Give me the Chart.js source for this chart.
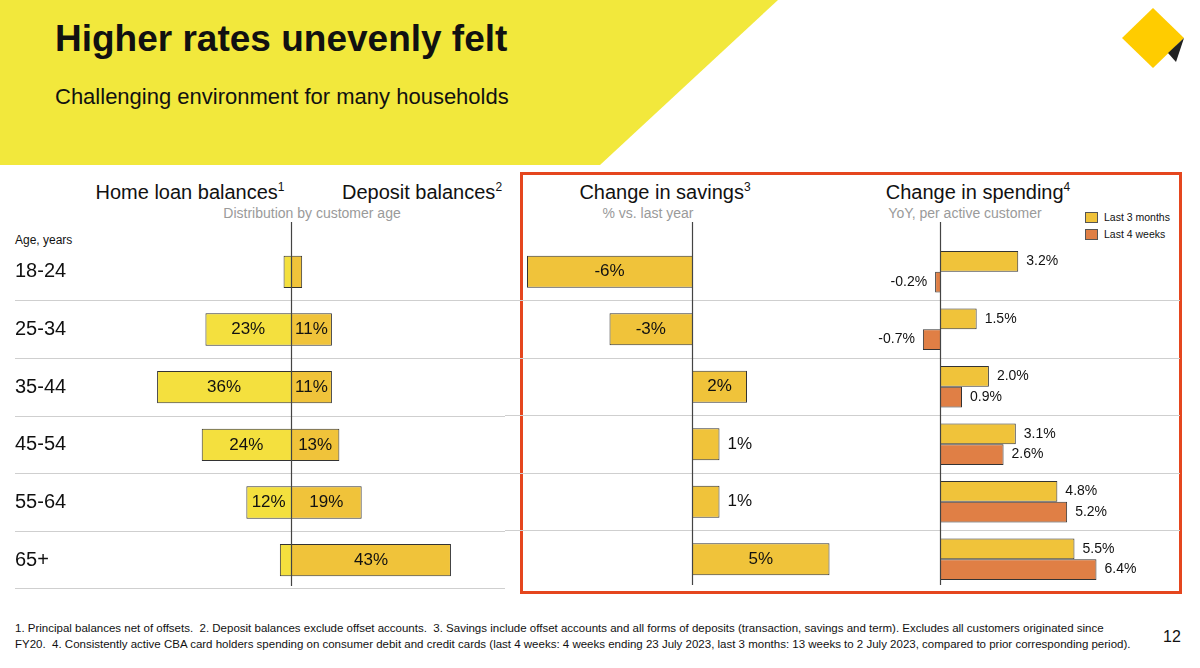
<!DOCTYPE html>
<html>
<head>
<meta charset="utf-8">
<script src="https://cdn.jsdelivr.net/npm/chart.js@4"></script>
<style>
  body { margin:0; width:1200px; height:668px; position:relative; background:#fff; overflow:hidden;
         font-family:"Liberation Sans", Arial, sans-serif; color:#111; }
  .band { position:absolute; left:0; top:0; width:780px; height:165px; background:#f2e83c;
          clip-path:polygon(0 0, 778px 0, 600px 165px, 0 165px); }
  .abs { position:absolute; white-space:nowrap; }
  .hd { font-size:20px; transform:translateX(-50%); }
  .sub { font-size:14px; color:#9a9a9a; transform:translateX(-50%); }
  canvas { position:absolute; }
  .box { position:absolute; left:520px; top:172px; width:656px; height:416px; border:3px solid #e5461e; }
  .lg { font-size:10.5px; display:flex; align-items:center; }
  .lg i { display:inline-block; width:11px; height:9px; border:1px solid #555; margin-right:6px; }
</style>
</head>
<body>
<div class="band"></div>
<div class="abs" style="left:55px;top:18px;font-size:37px;font-weight:bold;">Higher rates unevenly felt</div>
<div class="abs" style="left:55px;top:84px;font-size:22px;">Challenging environment for many households</div>
<svg class="abs" style="left:1118px;top:6px" width="70" height="64" viewBox="0 0 70 64">
  <polygon points="35,2 66,32 35,62 4,32" fill="#ffcc00"/>
  <polygon points="50,47 66,32 58,56" fill="#222"/>
</svg>

<div class="box"></div>
<div class="abs hd" style="left:190px;top:180px">Home loan balances<sup style="font-size:12px">1</sup></div>
<div class="abs hd" style="left:422px;top:180px">Deposit balances<sup style="font-size:12px">2</sup></div>
<div class="abs sub" style="left:312px;top:205px">Distribution by customer age</div>
<div class="abs" style="left:15px;top:233px;font-size:12px">Age, years</div>
<div class="abs hd" style="left:665px;top:180px">Change in savings<sup style="font-size:12px">3</sup></div>
<div class="abs sub" style="left:648px;top:205px">% vs. last year</div>
<div class="abs hd" style="left:978px;top:180px">Change in spending<sup style="font-size:12px">4</sup></div>
<div class="abs sub" style="left:965px;top:205px">YoY, per active customer</div>
<div class="abs lg" style="left:1085px;top:211px"><i style="background:#f0c23a"></i>Last 3 months</div>
<div class="abs lg" style="left:1085px;top:228px"><i style="background:#e07f45"></i>Last 4 weeks</div>

<canvas id="c1"></canvas>
<canvas id="c2"></canvas>
<canvas id="c3"></canvas>

<div class="abs" style="left:15px;top:620px;font-size:11.5px;line-height:16px">1. Principal balances net of offsets.&nbsp; 2. Deposit balances exclude offset accounts.&nbsp; 3. Savings include offset accounts and all forms of deposits (transaction, savings and term). Excludes all customers originated since<br>FY20.&nbsp; 4. Consistently active CBA card holders spending on consumer debit and credit cards (last 4 weeks: 4 weeks ending 23 July 2023, last 3 months: 13 weeks to 2 July 2023, compared to prior corresponding period).</div>
<div class="abs" style="left:1163px;top:628px;font-size:16px">12</div>

<script>
// 数据
const ageGroups = ['18-24', '25-34', '35-44', '45-54', '55-64', '65+'];
const homeLoan = [2, 23, 36, 24, 12, 3];
const deposits = [3, 11, 11, 13, 19, 43];
const homeLoanLabels = ['', '23%', '36%', '24%', '12%', ''];
const depositLabels = ['', '11%', '11%', '13%', '19%', '43%'];
const savingsChange = [-6, -3, 2, 1, 1, 5];
const spendLast3m = [3.2, 1.5, 2.0, 3.1, 4.8, 5.5];
const spendLast4w = [-0.2, -0.7, 0.9, 2.6, 5.2, 6.4];

const FONT = '"Liberation Sans", Arial, sans-serif';
const TOP = 205, PAD = 38, H = 345;

// 每个图的标签函数
const labelFns = {};

// 零轴线 + 数据标签
const zeroLine = {
  id: 'zeroLine',
  afterDatasetsDraw(chart) {
    const { ctx, chartArea, scales } = chart;
    const x = Math.round(scales.x.getPixelForValue(0)) + 0.5;
    ctx.save();
    ctx.strokeStyle = '#444';
    ctx.lineWidth = 1.2;
    ctx.beginPath();
    ctx.moveTo(x, chartArea.top - 21);
    ctx.lineTo(x, chartArea.bottom - 3);
    ctx.stroke();
    const labels = labelFns[chart.canvas.id];
    chart.data.datasets.forEach((ds, di) => {
      const meta = chart.getDatasetMeta(di);
      meta.data.forEach((bar, i) => {
        const txt = labels(di, i, ds.data[i]);
        if (!txt) return;
        ctx.font = txt.size + 'px ' + FONT;
        ctx.fillStyle = '#111';
        ctx.textBaseline = 'middle';
        let tx = (bar.x + bar.base) / 2;
        ctx.textAlign = 'center';
        if (txt.pos === 'out') {
          ctx.textAlign = ds.data[i] < 0 ? 'right' : 'left';
          tx = bar.x + (ds.data[i] < 0 ? -8 : 8);
        }
        ctx.fillText(txt.text, tx, bar.y);
      });
    });
    ctx.restore();
  }
};

const rowGrid = {
  display: true, offset: true, tickLength: 0,
  color: c => (c.index === 0 || c.index === ageGroups.length) ? 'transparent' : '#cfcfcf'
};

const baseOptions = (xmin, xmax, yAxis) => ({
  responsive: false,
  animation: false,
  indexAxis: 'y',
  layout: { padding: { top: PAD, left: 0, right: 0, bottom: 0 } },
  plugins: { legend: { display: false }, tooltip: { enabled: false } },
  scales: {
    x: { min: xmin, max: xmax, display: false, grid: { display: false } },
    y: Object.assign({ grid: rowGrid, border: { display: false } }, yAxis)
  }
});

const makeCanvas = (id, left, width, extra) => {
  const el = document.getElementById(id);
  el.width = width; el.height = H + PAD + (extra || 0);
  el.style.left = left + 'px'; el.style.top = TOP + 'px';
  return el;
};

// 图1：房贷/存款分布
labelFns.c1 = (di, i) => {
  const t = di === 0 ? homeLoanLabels[i] : depositLabels[i];
  return t ? { text: t, size: 17 } : null;
};
const c1 = makeCanvas('c1', 15, 490, 18);
const o1 = baseOptions(-(291 - 130) / 3.72, (505 - 291) / 3.72, {
  stacked: true,
  ticks: { display: true, color: '#111', font: { size: 20, family: FONT }, crossAlign: 'far', padding: 5 },
  afterFit: s => { s.width = 115; },
  grid: Object.assign({}, rowGrid, { tickLength: 115 })
});
o1.scales.x.stacked = true;
new Chart(c1, {
  type: 'bar',
  data: {
    labels: ageGroups,
    datasets: [
      { data: homeLoan.map(v => -v), backgroundColor: '#f4e03e', borderColor: '#333', borderWidth: 1,
        barPercentage: 0.56, categoryPercentage: 1 },
      { data: deposits, backgroundColor: '#f0c33a', borderColor: '#333', borderWidth: 1,
        barPercentage: 0.56, categoryPercentage: 1 }
    ]
  },
  options: o1,
  plugins: [zeroLine]
});

// 图2：储蓄变化
labelFns.c2 = (di, i, v) => ({ text: v + '%', size: 17, pos: Math.abs(v) < 2 ? 'out' : 'in' });
const c2 = makeCanvas('c2', 505, 335);
new Chart(c2, {
  type: 'bar',
  data: {
    labels: ageGroups,
    datasets: [{ data: savingsChange, backgroundColor: '#f0c33a', borderColor: '#333', borderWidth: 1,
      barPercentage: 0.56, categoryPercentage: 1 }]
  },
  options: baseOptions(-(692 - 505) / 27.5, (840 - 692) / 27.5,
    { ticks: { display: false }, afterFit: s => { s.width = 0; } }),
  plugins: [zeroLine]
});

// 图3：消费变化
labelFns.c3 = (di, i, v) => ({ text: v.toFixed(1) + '%', size: 14, pos: 'out' });
const c3 = makeCanvas('c3', 840, 340);
new Chart(c3, {
  type: 'bar',
  data: {
    labels: ageGroups,
    datasets: [
      { data: spendLast3m, backgroundColor: '#f0c33a', borderColor: '#333', borderWidth: 1,
        barPercentage: 1, categoryPercentage: 0.72 },
      { data: spendLast4w, backgroundColor: '#e07f45', borderColor: '#333', borderWidth: 1,
        barPercentage: 1, categoryPercentage: 0.72 }
    ]
  },
  options: baseOptions(-(940 - 840) / 24.45, (1180 - 940) / 24.45,
    { ticks: { display: false }, afterFit: s => { s.width = 0; } }),
  plugins: [zeroLine]
});
</script>
</body>
</html>
